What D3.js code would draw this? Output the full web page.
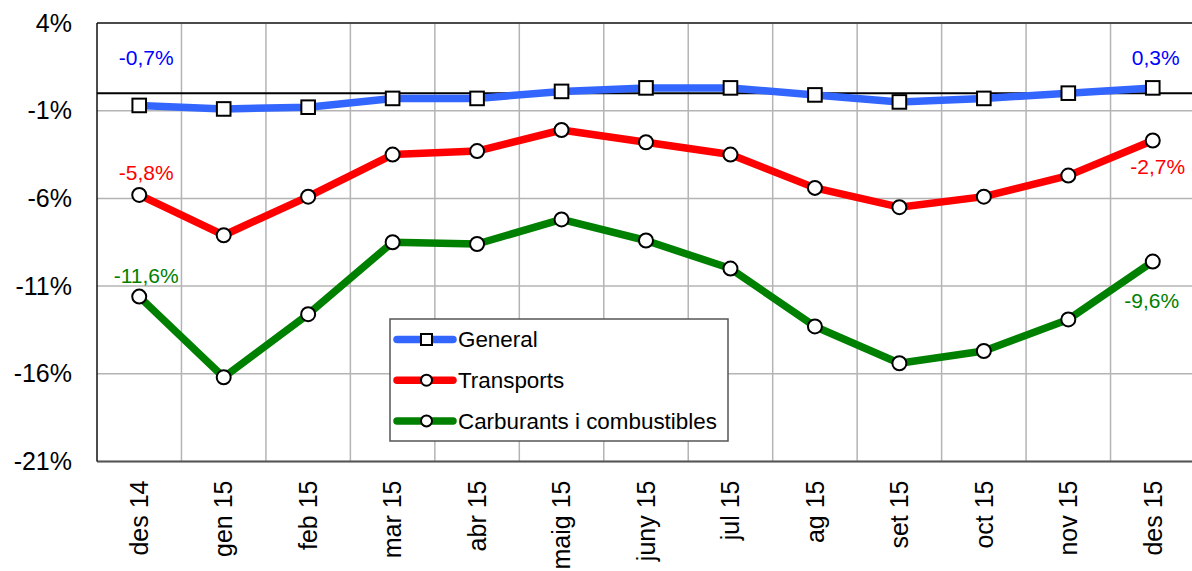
<!DOCTYPE html>
<html>
<head>
<meta charset="utf-8">
<script src="https://cdn.jsdelivr.net/npm/d3@7"></script>
<style>
  body { margin: 0; background: #fff; }
  svg { display: block; font-family: "Liberation Sans", Arial, sans-serif; }
</style>
</head>
<body>
<svg id="chart" width="1192" height="571"></svg>
<script>
var months = ["des 14", "gen 15", "feb 15", "mar 15", "abr 15", "maig 15", "juny 15",
              "jul 15", "ag 15", "set 15", "oct 15", "nov 15", "des 15"];
var general     = [-0.7, -0.9, -0.8, -0.3, -0.3, 0.1, 0.3, 0.3, -0.1, -0.5, -0.3, 0.0, 0.3];
var transports  = [-5.8, -8.1, -5.9, -3.5, -3.3, -2.1, -2.8, -3.5, -5.4, -6.5, -5.9, -4.7, -2.7];
var carburants  = [-11.6, -16.2, -12.6, -8.5, -8.6, -7.2, -8.4, -10.0, -13.3, -15.4, -14.7, -12.9, -9.6];
var yTicks = [4, -1, -6, -11, -16, -21];

var series = [
  { name: "General", values: general, color: "#3366ff", text: "#0000ff", marker: "square" },
  { name: "Transports", values: transports, color: "#ff0000", text: "#ff0000", marker: "circle" },
  { name: "Carburants i combustibles", values: carburants, color: "#008000", text: "#008000", marker: "circle" }
];

var svg = d3.select("#chart");
var plotLeft = 97, plotRight = 1195, plotTop = 23, plotBottom = 461.5;

var x = d3.scaleBand().domain(months).range([plotLeft, plotRight]);
var y = d3.scaleLinear().domain([-21, 4]).range([plotBottom, plotTop]);
var cx = function(i) { return x(months[i]) + x.bandwidth() / 2; };

// grid
var grid = svg.append("g");
grid.selectAll("line.h")
  .data(yTicks)
  .enter().append("line")
    .attr("x1", plotLeft).attr("x2", plotRight)
    .attr("y1", function(d) { return y(d); }).attr("y2", function(d) { return y(d); })
    .attr("stroke", "#b4b4b4").attr("stroke-width", 1.5);
grid.selectAll("line.v")
  .data(months.slice(1))
  .enter().append("line")
    .attr("x1", function(d) { return x(d); }).attr("x2", function(d) { return x(d); })
    .attr("y1", plotTop).attr("y2", plotBottom)
    .attr("stroke", "#b4b4b4").attr("stroke-width", 1.5);

// frame
svg.append("line").attr("x1", plotLeft).attr("x2", plotRight).attr("y1", plotTop).attr("y2", plotTop)
  .attr("stroke", "#222").attr("stroke-width", 1.5);
svg.append("line").attr("x1", plotLeft).attr("x2", plotRight).attr("y1", plotBottom).attr("y2", plotBottom)
  .attr("stroke", "#555").attr("stroke-width", 2);
svg.append("line").attr("x1", plotLeft).attr("x2", plotLeft).attr("y1", plotTop).attr("y2", plotBottom)
  .attr("stroke", "#111").attr("stroke-width", 1.5);

// zero line
svg.append("line").attr("x1", plotLeft).attr("x2", plotRight).attr("y1", y(0)).attr("y2", y(0))
  .attr("stroke", "#000").attr("stroke-width", 2);

// y axis
var yAxis = svg.append("g")
  .attr("transform", "translate(" + plotLeft + ",0)")
  .call(d3.axisLeft(y).tickValues(yTicks).tickSize(0).tickPadding(25)
        .tickFormat(function(d) { return d + "%"; }));
yAxis.select(".domain").remove();
yAxis.selectAll("text").attr("font-size", 25).attr("fill", "#000")
  .style("font-family", "Liberation Sans, Arial, sans-serif");

// x axis
var xAxis = svg.append("g")
  .attr("transform", "translate(0," + plotBottom + ")")
  .call(d3.axisBottom(x).tickSize(0));
xAxis.select(".domain").remove();
xAxis.selectAll("text")
  .attr("font-size", 25).attr("fill", "#000")
  .style("font-family", "Liberation Sans, Arial, sans-serif")
  .attr("text-anchor", "end")
  .attr("transform", "rotate(-90)")
  .attr("x", -19).attr("y", 0).attr("dy", "0.35em");

// lines
var line = d3.line()
  .x(function(d, i) { return cx(i); })
  .y(function(d) { return y(d); });

series.forEach(function(s) {
  svg.append("path")
    .attr("d", line(s.values))
    .attr("fill", "none")
    .attr("stroke", s.color)
    .attr("stroke-width", 7.5)
    .attr("stroke-linejoin", "round");
});

function drawMarker(g, type, px, py) {
  if (type === "square") {
    g.append("rect").attr("x", px - 6.8).attr("y", py - 6.8).attr("width", 13.6).attr("height", 13.6)
      .attr("fill", "#fff").attr("stroke", "#000").attr("stroke-width", 2);
  } else {
    g.append("circle").attr("cx", px).attr("cy", py).attr("r", 7)
      .attr("fill", "#fff").attr("stroke", "#000").attr("stroke-width", 2);
  }
}

series.forEach(function(s) {
  var g = svg.append("g");
  s.values.forEach(function(v, i) { drawMarker(g, s.marker, cx(i), y(v)); });
});

// value labels on first and last point
var labelOffsets = [
  [{ dx: 7, dy: -40 }, { dx: 3, dy: -23 }],
  [{ dx: 7, dy: -15 }, { dx: 5, dy: 33 }],
  [{ dx: 7, dy: -14 }, { dx: -1, dy: 46 }]
];
var fmt = function(v) { return v.toFixed(1).replace(".", ",") + "%"; };
series.forEach(function(s, si) {
  [0, s.values.length - 1].forEach(function(i, k) {
    var o = labelOffsets[si][k];
    svg.append("text")
      .attr("x", cx(i) + o.dx).attr("y", y(s.values[i]) + o.dy)
      .attr("text-anchor", "middle")
      .attr("font-size", 21)
      .attr("fill", s.text)
      .text(fmt(s.values[i]));
  });
});

// legend
var legend = svg.append("g").attr("transform", "translate(390,319)");
legend.append("rect").attr("width", 338).attr("height", 122)
  .attr("fill", "#fff").attr("stroke", "#555").attr("stroke-width", 1.5);
series.forEach(function(s, i) {
  var ly = 20.5 + i * 40.7;
  legend.append("line").attr("x1", 7).attr("x2", 63).attr("y1", ly).attr("y2", ly)
    .attr("stroke", s.color).attr("stroke-width", 7.5).attr("stroke-linecap", "round");
  var lg = legend.append("g");
  if (s.marker === "square") {
    lg.append("rect").attr("x", 31).attr("y", ly - 5.5).attr("width", 11).attr("height", 11)
      .attr("fill", "#fff").attr("stroke", "#000").attr("stroke-width", 2);
  } else {
    lg.append("circle").attr("cx", 36.5).attr("cy", ly).attr("r", 5.5)
      .attr("fill", "#fff").attr("stroke", "#000").attr("stroke-width", 2);
  }
  legend.append("text").attr("x", 68).attr("y", ly).attr("dy", "0.35em")
    .attr("font-size", 22.4).attr("fill", "#000").text(s.name);
});
</script>
</body>
</html>
